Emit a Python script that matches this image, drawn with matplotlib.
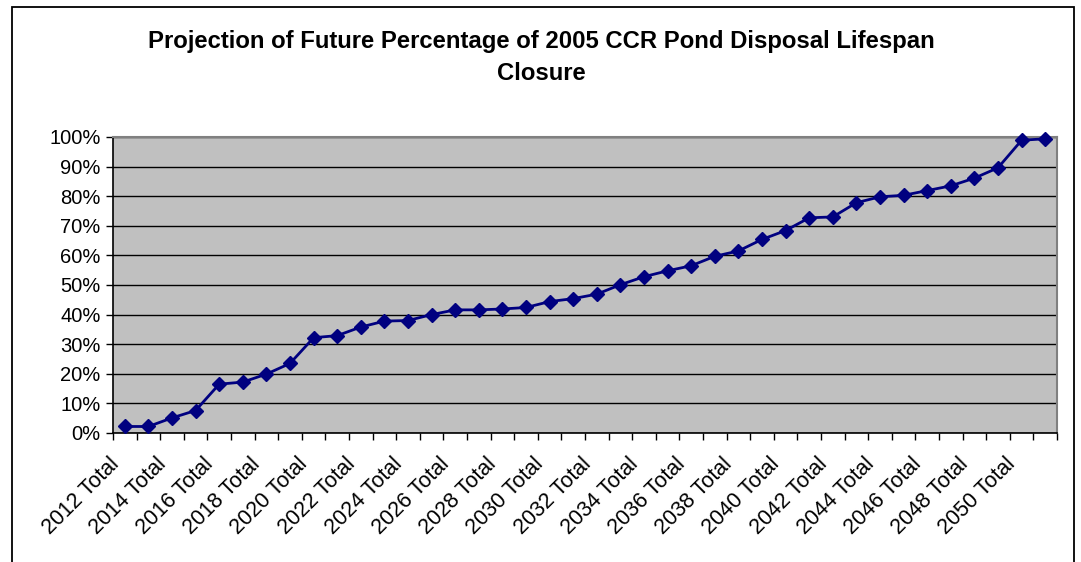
import matplotlib
matplotlib.use("Agg")
import matplotlib.pyplot as plt
from matplotlib.patches import Rectangle
from matplotlib.ticker import FixedLocator, PercentFormatter
from matplotlib.transforms import ScaledTranslation

years = list(range(2012, 2052))
categories = [f"{y} Total" for y in years]
values = [2.2, 2.2, 5.1, 7.6, 16.5, 17.2, 19.9, 23.5, 32.2, 32.9,
          35.8, 37.8, 38.0, 40.0, 41.6, 41.6, 41.9, 42.4, 44.4, 45.4,
          46.9, 50.1, 52.8, 54.8, 56.5, 59.7, 61.5, 65.4, 68.4, 72.7,
          73.0, 77.8, 79.8, 80.3, 81.9, 83.5, 86.1, 89.6, 98.9, 99.4]
title_line1 = "Projection of Future Percentage of 2005 CCR Pond Disposal Lifespan"
title_line2 = "Closure"

W, H = 1081, 562
fig = plt.figure(figsize=(W / 100, H / 100), dpi=100)
plt.rcParams['font.family'] = ['Liberation Sans', 'DejaVu Sans']

# outer chart border
fig.patches.append(Rectangle((12 / W, -0.1), (1074 - 12) / W, 1.1 - 7 / H,
                             transform=fig.transFigure, fill=False,
                             edgecolor='black', linewidth=1.3))

L, R, T, B = 113, 1057, 137, 433
ax = fig.add_axes([L / W, 1 - B / H, (R - L) / W, (B - T) / H])
ax.set_facecolor('#C0C0C0')

x = list(range(len(categories)))
ax.plot(x, values, color='#000080', linewidth=2, marker='D', markersize=7.5,
        markeredgecolor='#000080', markerfacecolor='#000080', zorder=3,
        clip_on=False)

ax.set_xlim(-0.5, len(categories) - 0.5)
ax.set_ylim(0, 100)
ax.set_yticks(range(0, 101, 10))
ax.yaxis.set_major_formatter(PercentFormatter(decimals=0))
ax.grid(axis='y', color='black', linewidth=1)
ax.set_axisbelow(True)

ax.xaxis.set_minor_locator(FixedLocator([i - 0.5 for i in range(len(categories) + 1)]))
ax.tick_params(axis='x', which='major', length=0, pad=20)
ax.tick_params(axis='x', which='minor', length=5, width=1, color='black')
ax.tick_params(axis='y', length=5, width=1, color='black', labelsize=14.5, pad=4)

ax.set_xticks(x[::2])
ax.set_xticklabels(categories[::2], rotation=45, ha='right', va='center',
                   rotation_mode='anchor', fontsize=15.5)
shift = ScaledTranslation(-9 / 100, 0, fig.dpi_scale_trans)
for lbl in ax.get_xticklabels():
    lbl.set_transform(lbl.get_transform() + shift)

for s in ['top', 'right']:
    ax.spines[s].set_color('#808080')
    ax.spines[s].set_linewidth(1.5)
for s in ['left', 'bottom']:
    ax.spines[s].set_color('black')
    ax.spines[s].set_linewidth(1.2)

fig.text(541 / W, 1 - 48 / H, title_line1, ha='center', va='baseline',
         fontsize=17.2, fontweight='bold')
fig.text(541 / W, 1 - 80 / H, title_line2, ha='center', va='baseline',
         fontsize=17.2, fontweight='bold')

fig.savefig('out.png', dpi=100)
